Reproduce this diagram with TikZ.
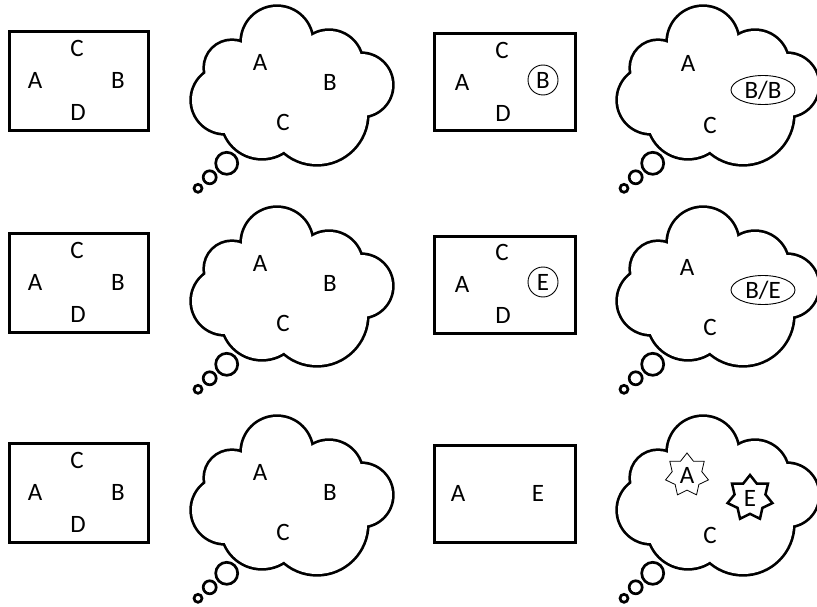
\documentclass[tikz,border=0pt]{standalone}
\usepackage{fontspec}
\setmainfont{Carlito}
\usetikzlibrary{shapes.geometric}

\begin{document}
\begin{tikzpicture}[
    x=1pt, y=-1pt,
    lbl/.style={font=\fontsize{25}{30}\selectfont, inner sep=0pt},
    scene/.style={draw, line width=3pt, minimum width=139pt, minimum height=99pt},
    ring/.style={lbl, draw, circle, line width=0.9pt, minimum size=30pt},
    pair/.style={lbl, draw, ellipse, line width=0.9pt, minimum width=64pt, minimum height=29pt},
    spark/.style={lbl, draw, star, star points=7, star point ratio=1.45, minimum size=44pt, line width=0.8pt},
    thought/.pic={
      % cloud outline: stroke every puff, then blank the inside
      \foreach \ux/\uy/\ur in {87/42/35, 139/64/33, 171/85/31, 127/114/50, 72/118/40, 35/100/33, 42/68/27}
        \draw[line width=5.4pt] (\ux,\uy) circle[radius=\ur];
      \foreach \ux/\uy/\ur in {87/42/35, 139/64/33, 171/85/31, 127/114/50, 72/118/40, 35/100/33, 42/68/27}
        \fill[white] (\ux,\uy) circle[radius=\ur];
      \fill[white] (87,42) -- (139,64) -- (171,85) -- (127,114) -- (72,118) -- (35,100) -- (42,68) -- cycle;
      % little bubbles
      \draw[line width=2.7pt] (36.7,163.3) circle[radius=11] (19.7,177.3) circle[radius=6.5] (8,188.3) circle[radius=4];
    }
]
\useasboundingbox (0,0) rectangle (817,607);

% first two columns repeat on every row
\foreach \row/\dy/\dc in {1/0/0, 2/202/201, 3/412/410} {
  \node[scene] (world\row) at (79,81+\dy) {};
  \node[lbl] (world\row-c) at (77,48+\dy) {C};
  \node[lbl] (world\row-a) at (35,80+\dy) {A};
  \node[lbl] (world\row-b) at (118,80+\dy) {B};
  \node[lbl] (world\row-d) at (78,112+\dy) {D};
  \pic at (190,\dc) {thought};
  \node[lbl] (belief\row-a) at (260,62+\dc) {A};
  \node[lbl] (belief\row-b) at (330,82+\dc) {B};
  \node[lbl] (belief\row-c) at (283,122+\dc) {C};
}

% third column
\node[scene, minimum width=141pt, minimum height=97pt] (after1) at (505,82) {};
\node[lbl] (after1-c) at (502,50) {C};
\node[lbl] (after1-a) at (462,82) {A};
\node[ring] (after1-b) at (543,80) {B};
\node[lbl] (after1-d) at (503,113) {D};

\node[scene, minimum width=141pt, minimum height=97pt] (after2) at (505,285) {};
\node[lbl] (after2-c) at (502,252) {C};
\node[lbl] (after2-a) at (462,284) {A};
\node[ring] (after2-e) at (543,282) {E};
\node[lbl] (after2-d) at (503,315) {D};

\node[scene, minimum width=141pt, minimum height=97pt] (after3) at (505,494) {};
\node[lbl] (after3-a) at (458,493) {A};
\node[lbl] (after3-e) at (538,493) {E};

% fourth column
\pic at (616,0) {thought};
\node[lbl] (guess1-a) at (688,63) {A};
\node[pair] (guess1-b) at (763,90) {B/B};
\node[lbl] (guess1-c) at (710,125) {C};

\pic at (616,201) {thought};
\node[lbl] (guess2-a) at (687,267) {A};
\node[pair] (guess2-b) at (763,290) {B/E};
\node[lbl] (guess2-c) at (710,327) {C};

\pic at (616,410) {thought};
\node[spark] (guess3-a) at (687,475) {A};
\node[spark, line width=2.5pt, minimum size=46pt] (guess3-e) at (750,498) {E};
\node[lbl] (guess3-c) at (710,535) {C};
\end{tikzpicture}
\end{document}
